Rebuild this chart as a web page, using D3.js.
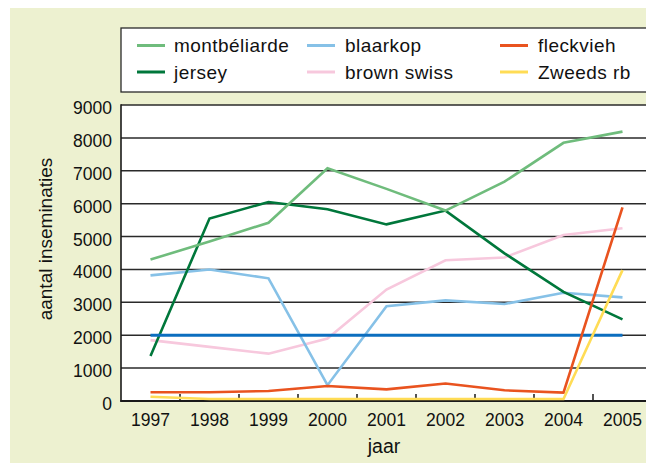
<!DOCTYPE html>
<html>
<head>
<meta charset="utf-8">
<script src="https://cdn.jsdelivr.net/npm/d3@7"></script>
<style>
  html, body { margin: 0; padding: 0; background: #ffffff; }
  svg { display: block; }
  text { font-family: "Liberation Sans", Arial, Helvetica, sans-serif; fill: #111; }
</style>
</head>
<body>
<svg id="chart" width="646" height="463"></svg>
<script>
// ---- data ----
const years = ["1997", "1998", "1999", "2000", "2001", "2002", "2003", "2004", "2005"];
const yTicks = [0, 1000, 2000, 3000, 4000, 5000, 6000, 7000, 8000, 9000];
const montbeliarde = [4300, 4850, 5420, 7075, 6450, 5790, 6670, 7850, 8190];
const jersey       = [1370, 5550, 6050, 5830, 5370, 5790, 4490, 3320, 2480];
const blaarkop     = [3820, 4000, 3730, 480, 2880, 3060, 2950, 3290, 3150];
const brownSwiss   = [1850, 1645, 1440, 1900, 3390, 4280, 4365, 5045, 5250];
const fleckvieh    = [265, 265, 305, 455, 355, 530, 325, 255, 5890];
const zweedsRb     = [130, 60, 60, 60, 60, 60, 60, 60, 3980];
const referentie   = [2000, 2000, 2000, 2000, 2000, 2000, 2000, 2000, 2000];
const seriesNames  = ["montbéliarde", "jersey", "blaarkop", "brown swiss", "fleckvieh", "Zweeds rb"];
const yTitle = "aantal inseminaties";
const xTitle = "jaar";

const colors = {
  "montbéliarde": "#6fbc7c",
  "jersey": "#00773b",
  "blaarkop": "#86c1e7",
  "brown swiss": "#f7c8dd",
  "fleckvieh": "#e9531f",
  "Zweeds rb": "#ffdc55",
  "ref": "#0b6ebf"
};

const svg = d3.select("#chart");

// background panel
svg.append("rect").attr("x", 10).attr("y", 8).attr("width", 646).attr("height", 463)
  .attr("fill", "#edf1d0");

// scales
const x = d3.scaleBand().domain(years).range([121, 652]).padding(0);
const y = d3.scaleLinear().domain([0, 9000]).range([401, 105]);
const cx = d => x(d) + x.bandwidth() / 2;

// plot area
svg.append("rect").attr("x", 121).attr("y", 105).attr("width", 531).attr("height", 296)
  .attr("fill", "#ffffff");

// grid lines
svg.append("g").selectAll("line").data(yTicks.filter(v => v > 0)).join("line")
  .attr("x1", 121).attr("x2", 652)
  .attr("y1", d => y(d)).attr("y2", d => y(d))
  .attr("stroke", "#2a2a2a").attr("stroke-width", 1.5);

// left border
svg.append("line").attr("x1", 121).attr("x2", 121).attr("y1", 104.3).attr("y2", 401.7)
  .attr("stroke", "#1a1a1a").attr("stroke-width", 1.6);

// x axis line + ticks at band boundaries
svg.append("line").attr("x1", 120.3).attr("x2", 652).attr("y1", 401).attr("y2", 401)
  .attr("stroke", "#1a1a1a").attr("stroke-width", 2);
svg.append("g").selectAll("line").data(years.slice(1)).join("line")
  .attr("x1", d => x(d)).attr("x2", d => x(d))
  .attr("y1", 401).attr("y2", 394)
  .attr("stroke", "#1a1a1a").attr("stroke-width", 1.5);

// y tick labels
svg.append("g").selectAll("text").data(yTicks).join("text")
  .attr("x", 112).attr("y", d => y(d) + 3)
  .attr("text-anchor", "end").attr("dominant-baseline", "central")
  .attr("font-size", "17.5px")
  .text(d => d);

// x tick labels
svg.append("g").selectAll("text").data(years).join("text")
  .attr("x", d => cx(d)).attr("y", 426)
  .attr("text-anchor", "middle")
  .attr("font-size", "17.5px")
  .text(d => d);

// axis titles
svg.append("text").attr("x", 384).attr("y", 453)
  .attr("text-anchor", "middle").attr("font-size", "19.5px").text(xTitle);
svg.append("text").attr("transform", "translate(52,239) rotate(-90)")
  .attr("text-anchor", "middle").attr("font-size", "19px").text(yTitle);

// lines
const line = d3.line().x((d, i) => cx(years[i])).y(d => y(d));
const drawOrder = [
  ["brown swiss", brownSwiss],
  ["blaarkop", blaarkop],
  ["jersey", jersey],
  ["montbéliarde", montbeliarde],
  ["ref", referentie],
  ["fleckvieh", fleckvieh],
  ["Zweeds rb", zweedsRb]
];
svg.append("g").selectAll("path").data(drawOrder).join("path")
  .attr("d", d => line(d[1]))
  .attr("fill", "none")
  .attr("stroke", d => colors[d[0]])
  .attr("stroke-width", d => d[0] === "ref" ? 3 : 2.6)
  .attr("stroke-linejoin", "miter");

// legend
svg.append("rect").attr("x", 121).attr("y", 28).attr("width", 540).attr("height", 64)
  .attr("fill", "#ffffff").attr("stroke", "#2a2a2a").attr("stroke-width", 1.3);
const legendPos = [
  { name: "montbéliarde", lx: 137, tx: 174, y: 45.5 },
  { name: "jersey", lx: 137, tx: 174, y: 72 },
  { name: "blaarkop", lx: 307, tx: 345, y: 45.5 },
  { name: "brown swiss", lx: 307, tx: 345, y: 72 },
  { name: "fleckvieh", lx: 500, tx: 538, y: 45.5 },
  { name: "Zweeds rb", lx: 500, tx: 538, y: 72 }
];
const lg = svg.append("g").selectAll("g").data(legendPos.filter(p => seriesNames.includes(p.name))).join("g");
lg.append("line")
  .attr("x1", d => d.lx).attr("x2", d => d.lx + 28)
  .attr("y1", d => d.y).attr("y2", d => d.y)
  .attr("stroke", d => colors[d.name]).attr("stroke-width", 3);
lg.append("text")
  .attr("x", d => d.tx).attr("y", d => d.y + 6.5)
  .attr("font-size", "19px").attr("letter-spacing", "0.45px")
  .text(d => d.name);
</script>
</body>
</html>
